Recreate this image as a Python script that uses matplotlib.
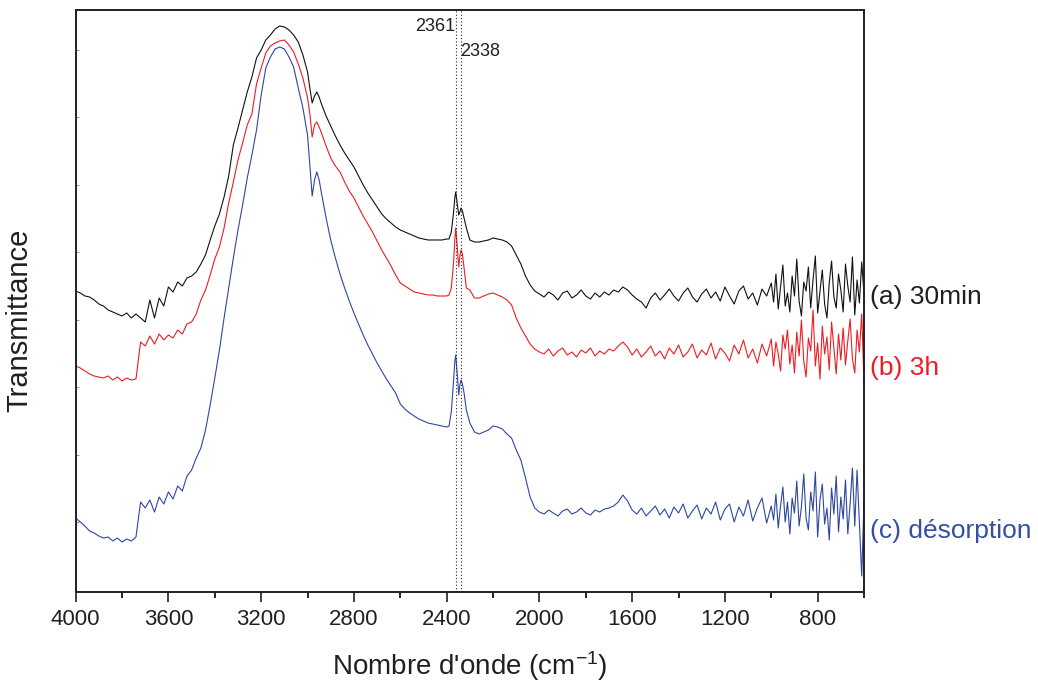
import matplotlib
matplotlib.use('Agg')
import matplotlib.pyplot as plt
import matplotlib.transforms as mtransforms

# ---------------- data ----------------
wavenumber = [
    4000, 3980, 3960, 3940, 3920, 3900, 3880, 3860, 3840, 3820,
    3800, 3780, 3760, 3740, 3720, 3700, 3680, 3660, 3640, 3620,
    3600, 3580, 3560, 3540, 3520, 3500, 3480, 3460, 3440, 3420,
    3400, 3380, 3360, 3340, 3320, 3300, 3280, 3260, 3240, 3220,
    3200, 3180, 3160, 3140, 3120, 3100, 3080, 3060, 3040, 3020,
    3000, 2990, 2980, 2970, 2960, 2950, 2940,
    2920, 2900, 2880, 2860, 2840, 2820, 2800, 2780, 2760, 2740,
    2720, 2700, 2680, 2660, 2640, 2620, 2600, 2580, 2560, 2540,
    2520, 2500, 2480, 2460, 2440, 2420, 2400,
    2390, 2380, 2370, 2365, 2361, 2355, 2348, 2343, 2338, 2332, 2325, 2315,
    2300, 2280, 2260, 2240, 2220, 2200, 2180, 2160, 2140, 2120,
    2100, 2080, 2060, 2040, 2020,
    2000, 1980, 1960, 1940, 1920, 1900, 1880, 1860, 1840, 1820,
    1800, 1780, 1760, 1740, 1720, 1700, 1680, 1660, 1640, 1620,
    1600, 1580, 1560, 1540, 1520, 1500, 1480, 1460, 1440, 1420,
    1400, 1380, 1360, 1340, 1320, 1300, 1280, 1260, 1240, 1220,
    1200, 1180, 1160, 1140, 1120, 1100, 1080, 1060, 1040, 1020,
    1000,
    990, 980, 970, 960, 950, 940, 930, 920, 910, 900,
    890, 880, 870, 860, 850, 840, 830, 820, 810, 800,
    790, 780, 770, 760, 750, 740, 730, 720, 710, 700,
    690, 680, 670, 660, 650, 640, 630, 620, 610, 600,
]

trans_30min = [
    301, 299, 296, 295, 292, 288, 286, 282, 280, 278,
    276, 279, 274, 278, 274, 270, 292, 274, 294, 286,
    305, 300, 310, 306, 314, 316, 320, 328, 337, 352,
    366, 378, 395, 416, 447, 464, 482, 500, 515, 534,
    542, 552, 557, 563, 566, 565, 562, 557, 550, 537,
    520, 504, 489, 496, 500, 495, 488,
    476, 466, 456, 447, 439, 432, 425, 416, 407, 399,
    392, 385, 378, 373, 369, 365, 362, 360, 358, 356,
    354, 353, 352, 352, 352, 352, 353,
    353, 360, 380, 394, 400, 389, 377, 380, 384, 381, 374, 364,
    352, 350, 350, 351, 352, 354, 353, 352, 350, 346,
    337, 328, 316, 307, 301,
    298, 295, 300, 297, 292, 299, 301, 294, 297, 302,
    296, 293, 299, 295, 300, 297, 302, 300, 305, 302,
    297, 293, 290, 284, 294, 299, 292, 297, 303, 296,
    291, 299, 304, 295, 290, 298, 303, 294, 300, 291,
    305, 296, 288, 301, 306, 293, 299, 287, 303, 296,
    309,
    290, 318, 283, 305, 327, 286, 299, 280, 316, 296,
    333, 291, 276, 310, 301, 325, 284, 312, 336, 279,
    300, 322, 288, 274, 309, 331, 295, 284, 318, 302,
    280, 328, 306, 290, 335, 277, 312, 289, 330, 297,
]

trans_3h = [
    226, 224, 221, 218, 216, 215, 214, 216, 212, 215,
    211, 214, 212, 213, 250, 246, 256, 248, 258, 252,
    257, 254, 262, 258, 268, 270, 278, 292, 302, 317,
    333, 345, 364, 389, 410, 432, 449, 467, 478, 508,
    524, 539, 546, 549, 551, 552, 547, 540, 528, 514,
    494, 478, 455, 467, 470, 465, 459,
    446, 434, 426, 420, 410, 401, 394, 385, 376, 368,
    360, 351, 342, 334, 326, 317, 309, 306, 303, 300,
    299, 298, 297, 297, 296, 296, 296,
    297, 304, 330, 352, 364, 347, 325, 336, 342, 338, 324, 304,
    302, 294, 294, 296, 298, 299, 297, 295, 292, 287,
    274, 264, 256, 248, 243,
    240, 238, 243, 236, 241, 244, 237, 240, 235, 242,
    239, 244, 236, 241, 238, 243, 241, 246, 250, 245,
    237, 243, 235, 240, 246, 236, 241, 233, 244, 238,
    247, 235, 240, 248, 234, 242, 237, 249, 233, 244,
    239, 231, 247, 238, 252, 234, 243, 229, 248, 236,
    253,
    226, 250, 238, 221, 257, 243, 262, 228, 247, 219,
    260, 236, 272, 231, 215, 254, 241, 282, 226, 249,
    213, 266, 238, 255, 222, 270, 244, 218, 258, 232,
    264, 227, 251, 273, 233, 219, 262, 240, 278, 207,
]

trans_desorption = [
    74, 70, 66, 61, 59, 56, 54, 55, 51, 54,
    50, 53, 51, 55, 90, 84, 92, 80, 95, 88,
    100, 93, 106, 101, 116, 122, 134, 144, 162, 187,
    214, 242, 274, 304, 334, 362, 387, 414, 437, 462,
    497, 524, 535, 543, 545, 543, 535, 525, 504, 484,
    457, 427, 396, 412, 420, 412, 399,
    374, 352, 334, 318, 304, 291, 279, 268, 257, 247,
    238, 229, 221, 213, 206, 199, 188, 183, 179, 176,
    173, 171, 169, 168, 167, 166, 165,
    166, 180, 212, 230, 237, 220, 197, 207, 212, 208, 199, 182,
    169, 160, 158, 160, 162, 166, 165, 163, 158, 154,
    142, 132, 114, 95, 84,
    80, 78, 82, 79, 76, 81, 83, 78, 80, 84,
    79, 77, 82, 80, 83, 84, 86, 90, 97, 91,
    82, 78, 84, 76, 81, 86, 77, 83, 74, 85,
    79, 88, 74, 81, 87, 73, 84, 78, 90, 72,
    83, 88, 70, 85, 76, 92, 71, 84, 94, 69,
    86,
    72, 98, 64, 86, 105, 70, 90, 58, 94, 79,
    111, 66, 85, 118, 74, 62, 100, 81, 120, 55,
    92, 108, 68, 84, 52, 104, 78, 116, 60, 95,
    73, 112, 58, 88, 124, 66, 122, 70, 16, 92,
]

assert len(wavenumber) == len(trans_30min) == len(trans_3h) == len(trans_desorption)

series_labels = ['(a) 30min', '(b) 3h', '(c) désorption']
label_levels = [295, 224, 61]
peak_positions = [2361, 2338]
peak_labels = ['2361', '2338']
x_ticks = [4000, 3600, 3200, 2800, 2400, 2000, 1600, 1200, 800]
x_minor_ticks = [3800, 3400, 3000, 2600, 2200, 1800, 1400, 1000, 600]
y_ticks = [70, 137, 205, 272, 340, 407, 475, 542]

# ---------------- style ----------------
plt.rcParams['font.family'] = ['Liberation Sans', 'DejaVu Sans']
plt.rcParams['mathtext.fontset'] = 'custom'
plt.rcParams['mathtext.rm'] = 'Liberation Sans'
plt.rcParams['mathtext.it'] = 'Liberation Sans:italic'

colors = ['#111111', '#f01c22', '#2d47a0']
text_colors = ['#231f20', '#ee1c24', '#3550a3']

fig = plt.figure(figsize=(10.38, 6.88), dpi=100)
ax = fig.add_axes([0.0729, 0.1395, 0.7595, 0.8460])

for series, c in zip([trans_30min, trans_3h, trans_desorption], colors):
    ax.plot(wavenumber, series, color=c, lw=0.8)

for p in peak_positions:
    ax.axvline(p, color='#222222', lw=0.8, ls=(0, (1, 2)))

ax.text(peak_positions[0] + 3, 565, peak_labels[0], ha='right', va='center',
        fontsize=13, color='#231f20')
ax.text(peak_positions[1] + 2, 540, peak_labels[1], ha='left', va='center',
        fontsize=13, color='#231f20')

trans = mtransforms.blended_transform_factory(ax.transAxes, ax.transData)
for lab, lev, c in zip(series_labels, label_levels, text_colors):
    ax.text(1.007, lev, lab, transform=trans, ha='left', va='center',
            fontsize=19, color=c, clip_on=False)

ax.set_xlim(4000, 600)
ax.set_ylim(0, 582)
ax.set_xticks(x_ticks)
ax.set_xticks(x_minor_ticks, minor=True)
ax.set_yticks(y_ticks)
ax.tick_params(axis='x', which='major', direction='out', length=7, width=1.2,
               labelsize=16, pad=5, colors='#231f20')
ax.tick_params(axis='x', which='minor', direction='out', length=4, width=1.2)
ax.tick_params(axis='y', which='major', direction='in', length=2, width=0.7,
               color='#999999', labelleft=False)

for s in ax.spines.values():
    s.set_linewidth(1.4)
    s.set_color('#231f20')

ax.set_xlabel("Nombre d'onde (cm$^{-1}$)", fontsize=20, labelpad=14, color='#231f20')
ax.set_ylabel('Transmittance', fontsize=21, color='#231f20')
ax.yaxis.set_label_coords(-0.054, 0.466)

fig.savefig('out.png', dpi=100)
